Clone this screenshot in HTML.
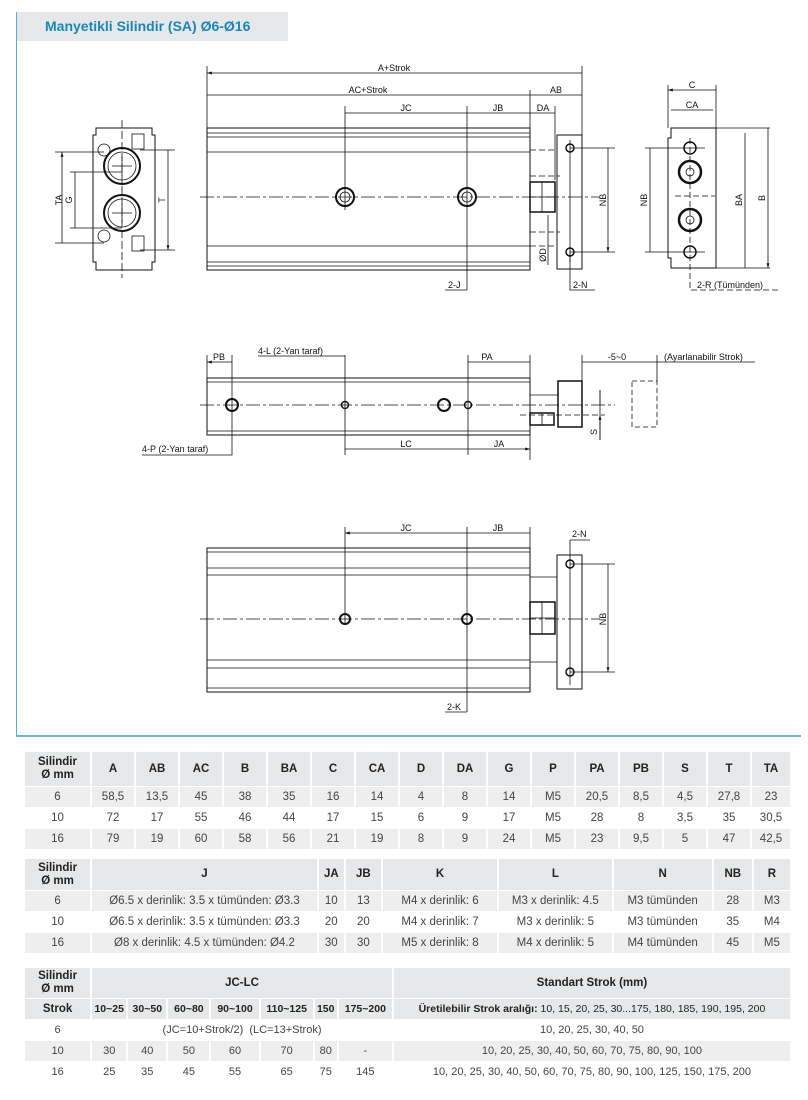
<!DOCTYPE html>
<html><head><meta charset="utf-8">
<style>
body{margin:0;width:808px;height:1100px;background:#fff;position:relative;overflow:hidden;font-family:"Liberation Sans",sans-serif;}
.frame{position:absolute;left:16px;top:12px;width:784px;height:723px;border-left:1.5px solid #5aaed0;border-bottom:2px solid #6ab4d4;}
.title{position:absolute;left:17px;top:12px;width:271px;height:29px;background:#e6e7e8;color:#1a86b5;font-weight:bold;font-size:14px;line-height:29px;padding-left:28px;box-sizing:border-box;}
svg{position:absolute;left:0;top:0;}
svg text{font-family:"Liberation Sans",sans-serif;font-size:9px;fill:#111;}
table{position:absolute;border-collapse:separate;border-spacing:2px 1px;table-layout:fixed;font-size:11.5px;color:#444;}
td{text-align:center;padding:0;white-space:nowrap;overflow:hidden;}
th{background:#e6e7e8;color:#222;font-size:11.5px;font-weight:bold;padding:0;line-height:13px;}
tr.g td{background:#eeeeef;}
</style></head><body>
<div class="frame"></div>
<div class="title">Manyetikli Silindir (SA) Ø6-Ø16</div>

<svg width="808" height="740" viewBox="0 0 808 740">
<defs><marker id="a" viewBox="0 0 10 10" refX="10" refY="5" markerWidth="6" markerHeight="6" orient="auto-start-reverse"><path d="M0,2L10,5L0,8z" fill="#111"/></marker></defs>
<g stroke="#111" fill="none" stroke-width="0.8">
<!-- LEFT END VIEW -->
<path d="M96,128 H152 V135 H155 V262 H152 V270 H96 V262 H93 V135 H96 Z" stroke-width="1"/>
<circle cx="122" cy="166" r="18" stroke-width="2"/><circle cx="122" cy="166" r="14"/>
<circle cx="122" cy="213" r="18" stroke-width="2"/><circle cx="122" cy="213" r="14"/>
<circle cx="104" cy="150" r="6"/><circle cx="104" cy="236" r="6"/>
<rect x="132" y="134" width="12" height="15"/><rect x="132" y="236" width="12" height="15"/>
<path d="M122,120 V278" stroke-dasharray="8,3"/>
<path d="M112,166 H132 M122,156 V176 M112,213 H132 M122,203 V223"/>
<path d="M55,152 H104 M55,243 H104 M70,172 H122 M70,228 H122 M140,150 H175 M140,250 H175"/>
<path d="M62,152 V243 M75,172 V228 M168,150 V250" marker-start="url(#a)" marker-end="url(#a)"/>
<!-- TOP VIEW -->
<rect x="207" y="128" width="323" height="142" stroke-width="1"/>
<path d="M207,133 H530 M207,137 H530 M207,152 H530 M207,246 H530 M207,262 H530 M207,266 H530"/>
<path d="M200,197 H600" stroke-dasharray="14,3,3,3"/>
<circle cx="345" cy="197" r="9" stroke-width="2"/><circle cx="345" cy="197" r="5"/>
<circle cx="467" cy="197" r="9" stroke-width="2"/><circle cx="467" cy="197" r="5"/>
<path d="M530,150 H557 M530,246 H557 M530,176 H560 M530,232 H560" stroke-dasharray="6,3"/>
<rect x="530" y="182" width="25" height="30" stroke-width="1.5"/><path d="M542,182 V212 M530,197 H555"/>
<rect x="557" y="135" width="25" height="134" stroke-width="1"/>
<circle cx="570" cy="148" r="4" stroke-width="1.5"/><circle cx="570" cy="252" r="4" stroke-width="1.5"/>
<path d="M570,140 V262 M570,148 H615 M570,252 H615"/>
<path d="M207,66 V128 M582,66 V135 M530,90 V128 M345,106 V210 M467,106 V290 M555,106 V180"/>
<path d="M207,73 H582 M207,95 H530 M530,95 H582 M345,113 H467 M467,113 H530 M530,113 H555 M608,148 V252" marker-start="url(#a)" marker-end="url(#a)"/>
<path d="M467,290 H445 M570,252 V290 H595 M548,215 V265"/>
<!-- RIGHT END VIEW -->
<path d="M671,128 H716 V268 H671 V258 H668 V138 H671 Z" stroke-width="1"/>
<circle cx="690" cy="148" r="6" stroke-width="1.5"/><circle cx="690" cy="252" r="6" stroke-width="1.5"/>
<circle cx="690" cy="172" r="11" stroke-width="2.5"/><circle cx="690" cy="172" r="4"/>
<circle cx="690" cy="220" r="11" stroke-width="2.5"/><circle cx="690" cy="220" r="4"/>
<path d="M690,138 V290 H778 M675,196 H715" stroke-dasharray="6,3"/>
<path d="M668,85 V128 M716,85 V128 M645,148 H705 M645,252 H705 M716,128 H770 M716,268 H770"/>
<path d="M668,90 H716 M671,110 H713 M650,148 V252 M745,133 V268 M768,128 V268" marker-start="url(#a)" marker-end="url(#a)"/>
<!-- SIDE VIEW -->
<rect x="207" y="378" width="323" height="57" stroke-width="1"/>
<path d="M207,382 H530 M207,431 H530"/>
<path d="M200,405 H615" stroke-dasharray="14,3,3,3"/>
<circle cx="232" cy="405" r="6" stroke-width="2"/><circle cx="444" cy="405" r="6" stroke-width="2"/>
<circle cx="345" cy="405" r="3.5" stroke-width="1.5"/><circle cx="468" cy="405" r="3.5" stroke-width="1.5"/>
<path d="M530,395 H558"/>
<rect x="530" y="413" width="24" height="12" stroke-width="1.5"/><path d="M542,413 V425"/>
<path d="M520,415 H605" stroke-dasharray="6,3"/>
<rect x="558" y="381" width="24" height="46" stroke-width="1.5"/>
<rect x="632" y="381" width="25" height="46" stroke-dasharray="5,3"/>
<path d="M207,355 V378 M232,355 V405 M345,355 V455 M468,355 V455 M530,355 V460 M582,355 V381 M657,355 V381"/>
<path d="M207,362 H232 M468,362 H530 M582,362 H657 M345,449 H468 M468,449 H530" marker-start="url(#a)" marker-end="url(#a)"/>
<path d="M657,362 H755 M258,356 H345 M232,405 V455 H142"/>
<path d="M600,390 V440"/><path d="M600,390 V405 M600,440 V415" marker-end="url(#a)"/>
<!-- BOTTOM VIEW -->
<rect x="207" y="548" width="323" height="144" stroke-width="1"/>
<path d="M207,552 H530 M207,568 H530 M207,575 H530 M207,660 H530 M207,668 H530 M207,688 H530"/>
<path d="M200,619 H600" stroke-dasharray="14,3,3,3"/>
<circle cx="345" cy="619" r="5" stroke-width="2"/><circle cx="467" cy="619" r="5" stroke-width="2"/>
<path d="M530,577 H557 M530,662 H557" /> 
<rect x="530" y="602" width="25" height="32" stroke-width="1.5"/><path d="M542,602 V634 M530,618 H555"/>
<rect x="557" y="555" width="25" height="134" stroke-width="1"/>
<circle cx="570" cy="564" r="4" stroke-width="1.5"/><circle cx="570" cy="672" r="4" stroke-width="1.5"/>
<path d="M570,540 V685 M570,564 H615 M570,672 H615"/>
<path d="M345,527 V625 M467,527 V712 M530,527 V548"/>
<path d="M345,533 H467 M467,533 H530 M608,564 V672" marker-start="url(#a)" marker-end="url(#a)"/>
<path d="M467,712 H445 M570,540 H590"/>
</g>
<g>
<text x="62" y="200" transform="rotate(-90 62 200)" text-anchor="middle">TA</text>
<text x="72" y="200" transform="rotate(-90 72 200)" text-anchor="middle">G</text>
<text x="165" y="200" transform="rotate(-90 165 200)" text-anchor="middle">T</text>
<text x="394" y="71" text-anchor="middle">A+Strok</text>
<text x="368" y="93" text-anchor="middle">AC+Strok</text>
<text x="556" y="93" text-anchor="middle">AB</text>
<text x="406" y="111" text-anchor="middle">JC</text>
<text x="498" y="111" text-anchor="middle">JB</text>
<text x="543" y="111" text-anchor="middle">DA</text>
<text x="606" y="200" transform="rotate(-90 606 200)" text-anchor="middle">NB</text>
<text x="546" y="255" transform="rotate(-90 546 255)" text-anchor="middle">ØD</text>
<text x="448" y="288">2-J</text>
<text x="573" y="288">2-N</text>
<text x="692" y="88" text-anchor="middle">C</text>
<text x="692" y="108" text-anchor="middle">CA</text>
<text x="647" y="200" transform="rotate(-90 647 200)" text-anchor="middle">NB</text>
<text x="742" y="200" transform="rotate(-90 742 200)" text-anchor="middle">BA</text>
<text x="765" y="198" transform="rotate(-90 765 198)" text-anchor="middle">B</text>
<text x="697" y="288">2-R (Tümünden)</text>
<text x="219" y="360" text-anchor="middle">PB</text>
<text x="258" y="354">4-L (2-Yan taraf)</text>
<text x="487" y="360" text-anchor="middle">PA</text>
<text x="617" y="360" text-anchor="middle">-5~0</text>
<text x="664" y="360">(Ayarlanabilir Strok)</text>
<text x="406" y="447" text-anchor="middle">LC</text>
<text x="499" y="447" text-anchor="middle">JA</text>
<text x="142" y="452">4-P (2-Yan taraf)</text>
<text x="597" y="432" transform="rotate(-90 597 432)" text-anchor="middle">S</text>
<text x="406" y="531" text-anchor="middle">JC</text>
<text x="498" y="531" text-anchor="middle">JB</text>
<text x="572" y="537">2-N</text>
<text x="606" y="619" transform="rotate(-90 606 619)" text-anchor="middle">NB</text>
<text x="447" y="710">2-K</text>
</g>
</svg>

<table style="left:23px;top:751px;width:769px;">
<colgroup><col style="width:65px"><col span="15" style="width:42px"></colgroup>
<tr style="height:34px"><th>Silindir<br>Ø mm</th><th>A</th><th>AB</th><th>AC</th><th>B</th><th>BA</th><th>C</th><th>CA</th><th>D</th><th>DA</th><th>G</th><th>P</th><th>PA</th><th>PB</th><th>S</th><th>T</th><th>TA</th></tr>
<tr class="g" style="height:20px"><td>6</td><td>58,5</td><td>13,5</td><td>45</td><td>38</td><td>35</td><td>16</td><td>14</td><td>4</td><td>8</td><td>14</td><td>M5</td><td>20,5</td><td>8,5</td><td>4,5</td><td>27,8</td><td>23</td></tr>
<tr style="height:20px"><td>10</td><td>72</td><td>17</td><td>55</td><td>46</td><td>44</td><td>17</td><td>15</td><td>6</td><td>9</td><td>17</td><td>M5</td><td>28</td><td>8</td><td>3,5</td><td>35</td><td>30,5</td></tr>
<tr class="g" style="height:20px"><td>16</td><td>79</td><td>19</td><td>60</td><td>58</td><td>56</td><td>21</td><td>19</td><td>8</td><td>9</td><td>24</td><td>M5</td><td>23</td><td>9,5</td><td>5</td><td>47</td><td>42,5</td></tr>
</table>

<table style="left:23px;top:858px;width:769px;">
<colgroup><col style="width:65px"><col style="width:224px"><col style="width:25px"><col style="width:35px"><col style="width:114px"><col style="width:112px"><col style="width:98px"><col style="width:38px"><col style="width:36px"></colgroup>
<tr style="height:31px"><th>Silindir<br>Ø mm</th><th>J</th><th>JA</th><th>JB</th><th>K</th><th>L</th><th>N</th><th>NB</th><th>R</th></tr>
<tr class="g" style="height:20px"><td>6</td><td>Ø6.5 x derinlik: 3.5 x tümünden: Ø3.3</td><td>10</td><td>13</td><td>M4 x derinlik: 6</td><td>M3 x derinlik: 4.5</td><td>M3 tümünden</td><td>28</td><td>M3</td></tr>
<tr style="height:20px"><td>10</td><td>Ø6.5 x derinlik: 3.5 x tümünden: Ø3.3</td><td>20</td><td>20</td><td>M4 x derinlik: 7</td><td>M3 x derinlik: 5</td><td>M3 tümünden</td><td>35</td><td>M4</td></tr>
<tr class="g" style="height:20px"><td>16</td><td>Ø8 x derinlik: 4.5 x tümünden: Ø4.2</td><td>30</td><td>30</td><td>M5 x derinlik: 8</td><td>M4 x derinlik: 5</td><td>M4 tümünden</td><td>45</td><td>M5</td></tr>
</table>

<table style="left:23px;top:967px;width:769px;font-size:11px;">
<colgroup><col style="width:65px"><col style="width:34px"><col style="width:38px"><col style="width:41px"><col style="width:47px"><col style="width:52px"><col style="width:22px"><col style="width:53px"><col style="width:395px"></colgroup>
<tr style="height:30px"><th>Silindir<br>Ø mm</th><th colspan="7">JC-LC</th><th>Standart Strok (mm)</th></tr>
<tr style="height:20px"><th>Strok</th><th style="font-size:10.5px">10~25</th><th style="font-size:10.5px">30~50</th><th style="font-size:10.5px">60~80</th><th style="font-size:10.5px">90~100</th><th style="font-size:10.5px">110~125</th><th style="font-size:10.5px">150</th><th style="font-size:10.5px">175~200</th><th style="font-weight:normal;font-size:10.5px"><b>Üretilebilir Strok aralığı:</b> 10, 15, 20, 25, 30...175, 180, 185, 190, 195, 200</th></tr>
<tr style="height:20px"><td>6</td><td colspan="7">(JC=10+Strok/2)&nbsp; (LC=13+Strok)</td><td>10, 20, 25, 30, 40, 50</td></tr>
<tr class="g" style="height:20px"><td>10</td><td>30</td><td>40</td><td>50</td><td>60</td><td>70</td><td>80</td><td>-</td><td>10, 20, 25, 30, 40, 50, 60, 70, 75, 80, 90, 100</td></tr>
<tr style="height:20px"><td>16</td><td>25</td><td>35</td><td>45</td><td>55</td><td>65</td><td>75</td><td>145</td><td>10, 20, 25, 30, 40, 50, 60, 70, 75, 80, 90, 100, 125, 150, 175, 200</td></tr>
</table>
</body></html>
